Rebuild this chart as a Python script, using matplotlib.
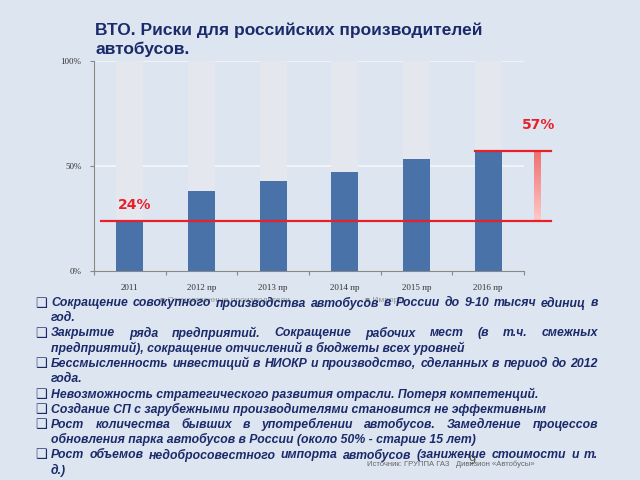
import numpy as np
import matplotlib.pyplot as plt
from matplotlib.colors import LinearSegmentedColormap

# data
years = ['2011', '2012 пр', '2013 пр', '2014 пр', '2015 пр', '2016 пр']
domestic = [24, 38, 43, 47, 53.5, 57]
total = [100, 100, 100, 100, 100, 100]
yticks = [0, 50, 100]
ytick_labels = ['0%', '50%', '100%']
start_val, end_val = 24, 57

title = 'ВТО. Риски для российских производителей\nавтобусов.'
bullets = [
    ['Сокращение совокупного производства автобусов в России до 9-10 тысяч единиц в', 'год.'],
    ['Закрытие ряда предприятий. Сокращение рабочих мест (в т.ч. смежных',
     'предприятий), сокращение отчислений в бюджеты всех уровней'],
    ['Бессмысленность инвестиций в НИОКР и производство, сделанных в период до 2012', 'года.'],
    ['Невозможность стратегического развития отрасли. Потеря компетенций.'],
    ['Создание СП с зарубежными производителями становится не эффективным'],
    ['Рост количества бывших в употреблении автобусов. Замедление процессов',
     'обновления парка автобусов в России (около 50% - старше 15 лет)'],
    ['Рост объемов недобросовестного импорта автобусов (занижение стоимости и т.', 'д.)'],
]
source = 'Источник: ГРУППА ГАЗ   Дивизион «Автобусы»'

bg = '#dde6f0'
navy = '#1b2a6b'
blue = '#4872a8'
grey_bar = '#e4e7ee'
red = '#e8202a'

W, H = 640, 480
fig = plt.figure(figsize=(6.4, 4.8), dpi=100, facecolor=bg)

def fx(px):
    return px / W

def fy(py):
    return 1 - py / H

ax = fig.add_axes([fx(94), fy(271), fx(524) - fx(94), fy(61) - fy(271)])
ax.set_facecolor('none')
x = np.arange(len(years))
ax.bar(x, total, width=0.375, color=grey_bar, zorder=2)
ax.bar(x, domestic, width=0.375, color=blue, zorder=3)
for v in [50, 100]:
    ax.axhline(v, color='#f4f6f9', lw=1.2, zorder=1)
ax.set_xlim(-0.5, len(years) - 0.5)
ax.set_ylim(0, 100)
ax.set_yticks(yticks)
ax.set_yticklabels(ytick_labels, fontsize=6.5, family='Liberation Serif', color='#333333')
ax.set_xticks(np.arange(-0.5, len(years), 1), minor=False)
ax.set_xticklabels([])
ax.set_xticks(x, minor=True)
ax.set_xticklabels(years, minor=True, fontsize=6.5, family='Liberation Serif', color='#333333')
ax.tick_params(axis='x', which='minor', length=0, pad=9)
ax.tick_params(axis='x', which='major', length=3, color='#888888', direction='out')
ax.tick_params(axis='y', length=3, color='#888888', pad=6)
for s in ['top', 'right']:
    ax.spines[s].set_visible(False)
ax.spines['left'].set_color('#888888')
ax.spines['bottom'].set_color('#888888')

# red reference lines and growth marker
ax.plot([-0.4, 5.88], [start_val, start_val], color=red, lw=1.6, clip_on=False, zorder=5)
ax.plot([4.82, 5.88], [end_val, end_val], color=red, lw=1.6, clip_on=False, zorder=5)
grad = LinearSegmentedColormap.from_list('g', ['#ffc8c8', '#f07070'])
ax.imshow(np.linspace(0, 1, 50).reshape(-1, 1), cmap=grad, origin='lower', aspect='auto',
          extent=[5.64, 5.73, start_val, end_val], clip_on=False, zorder=4)
ax.set_xlim(-0.5, len(years) - 0.5)
ax.set_ylim(0, 100)
ax.text(-0.17, start_val + 4, f'{start_val}%', color=red, fontsize=10, fontweight='bold',
        family='Liberation Sans Narrow', va='bottom', ha='left', zorder=6)
ax.text(5.7, end_val + 9, f'{end_val}%', color=red, fontsize=10, fontweight='bold',
        family='Liberation Sans Narrow', va='bottom', ha='center', zorder=6)

# title
fig.text(fx(95), fy(22), title, color=navy, fontsize=12.5, fontweight='bold',
         family='Liberation Sans', va='top', ha='left', linespacing=1.3)

# faint legend hidden behind the text
fig.text(fx(160), fy(301), '■ Отечественные производители', fontsize=6, color='#555555',
         alpha=0.6, va='center', family='Liberation Sans')
fig.text(fx(365), fy(301), '■ Импорт', fontsize=6, color='#555555', alpha=0.6,
         va='center', family='Liberation Sans')

# bullet list: font size fitted so a plain line has the reference width
renderer = fig.canvas.get_renderer()
left_px, right_px = 51, 598
font = dict(family='Liberation Sans', style='italic', fontweight='bold', color=navy)
probe = fig.text(0, 0, bullets[1][1], fontsize=10, **font)
size = 10 * 413 / probe.get_window_extent(renderer).width
probe.remove()
font['fontsize'] = size

line_y = 303
step = 15.2
for item in bullets:
    fig.text(fx(35), fy(line_y), '❑', family='DejaVu Sans', fontsize=9.5, color=navy, va='center')
    for i, line in enumerate(item):
        justify = (i < len(item) - 1) or line.startswith('Рост количества')
        if justify:
            words = line.split(' ')
            texts = [fig.text(0, fy(line_y), w, va='center', ha='left', **font) for w in words]
            widths = [t.get_window_extent(renderer).width for t in texts]
            gap = (right_px - left_px - sum(widths)) / (len(words) - 1)
            pos = left_px
            for t, wd in zip(texts, widths):
                t.set_x(fx(pos))
                pos += wd + gap
        else:
            fig.text(fx(left_px), fy(line_y), line, va='center', ha='left', **font)
        line_y += step

fig.text(fx(367), fy(464), source, fontsize=5.5, color='#666666', va='center', family='Liberation Sans')
fig.text(fx(468), fy(461), '9', fontsize=9, color='#555555', va='center', family='Liberation Sans')

fig.savefig('out.png', dpi=100, facecolor=bg)
